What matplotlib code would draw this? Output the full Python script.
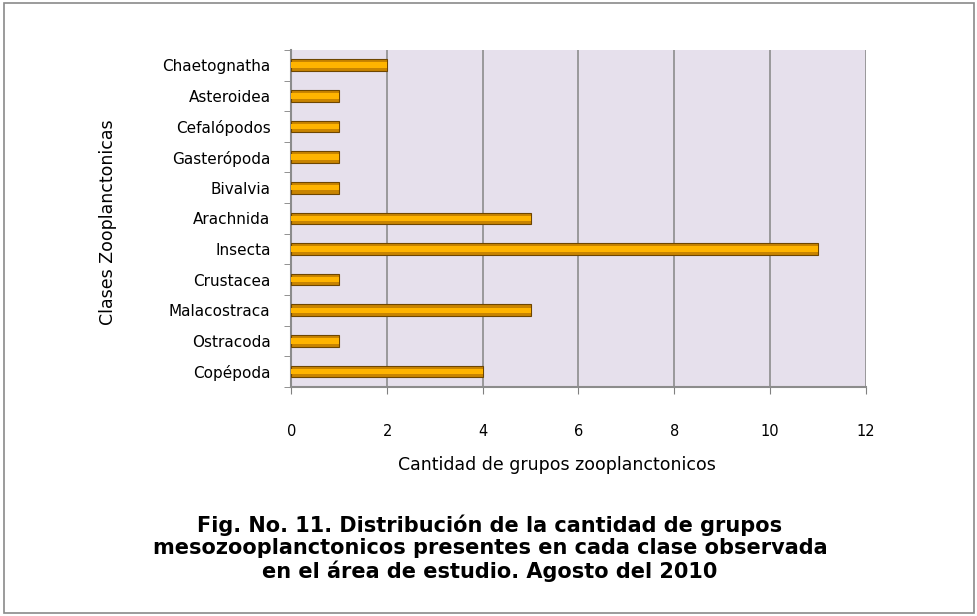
import matplotlib
matplotlib.use("Agg")
import matplotlib.pyplot as plt
import numpy as np
from matplotlib.patches import Rectangle

plt.rcParams['font.family'] = ['DejaVu Sans']

categories = ["Copépoda", "Ostracoda", "Malacostraca", "Crustacea", "Insecta",
              "Arachnida", "Bivalvia", "Gasterópoda", "Cefalópodos", "Asteroidea",
              "Chaetognatha"]
values = [4, 1, 5, 1, 11, 5, 1, 1, 1, 1, 2]
xticks = [0, 2, 4, 6, 8, 10, 12]

fig = plt.figure(figsize=(9.78, 6.16), dpi=100)
fig.patch.set_facecolor('white')
fig.add_artist(Rectangle((0.004, 0.005), 0.992, 0.99, transform=fig.transFigure,
                         fill=False, edgecolor='#8a8a8a', linewidth=1.2))

ax = fig.add_axes([0.298, 0.372, 0.587, 0.547])
ax.set_facecolor('#E6E0EC')
y = np.arange(len(categories))
ax.barh(y, values, height=0.38, color='#C88400', edgecolor='#6E4600', linewidth=0.8, zorder=3)
ax.barh(y, values, height=0.18, color='#FFB400', edgecolor='none', zorder=4)

ax.set_xlim(0, 12)
ax.set_ylim(-0.5, len(categories) - 0.5)
ax.set_xticks(xticks)
ax.set_xticklabels([str(t) for t in xticks], fontsize=10.5)
ax.set_yticks(y)
ax.set_yticklabels(categories, fontsize=11)
ax.set_yticks(np.arange(-0.5, len(categories)), minor=True)
ax.tick_params(axis='y', which='major', length=0, pad=15)
ax.tick_params(axis='y', which='minor', length=5, direction='out', color='#808080')
ax.tick_params(axis='x', which='major', length=5, direction='out', color='#808080', pad=22)
ax.grid(axis='x', color='#8c8c8c', linewidth=1.2, zorder=1)
for s in ['top', 'right']:
    ax.spines[s].set_visible(False)
ax.spines['left'].set_color('#8c8c8c')
ax.spines['bottom'].set_color('#8c8c8c')
ax.spines['left'].set_linewidth(1.5)
ax.spines['bottom'].set_linewidth(1.5)

ax.set_xlabel("Cantidad de grupos zooplanctonicos", fontsize=12.5)
ax.xaxis.set_label_coords(0.463, -0.205)
ax.set_ylabel("Clases Zooplanctonicas", fontsize=12.5)
ax.yaxis.set_label_coords(-0.303, 0.49)

caption = ["Fig. No. 11. Distribución de la cantidad de grupos",
           "mesozooplanctonicos presentes en cada clase observada",
           "en el área de estudio. Agosto del 2010"]
for i, line in enumerate(caption):
    fig.text(0.501, 0.148 - i * 0.038, line, ha='center', va='center',
             fontsize=15, fontweight='bold')

fig.savefig("out.png", dpi=100)
